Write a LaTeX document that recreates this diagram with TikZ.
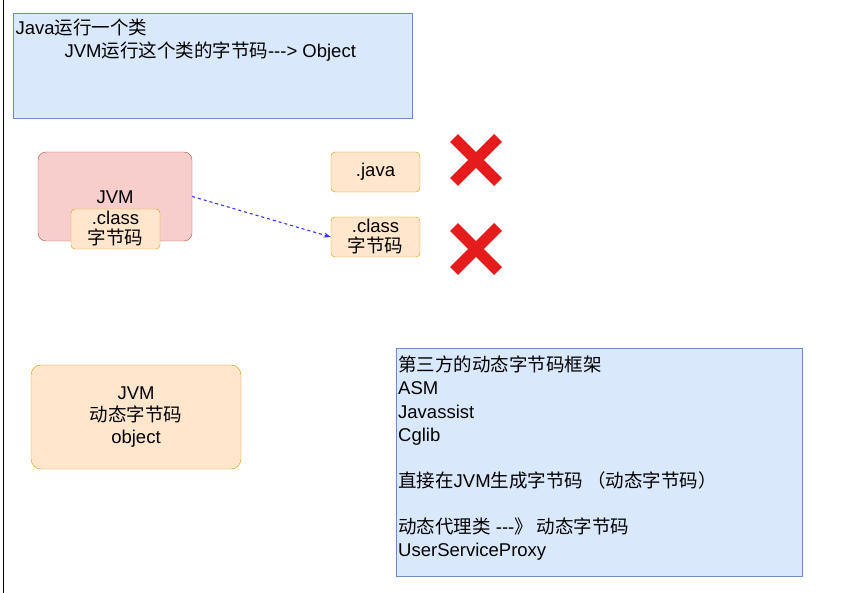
\documentclass[tikz,border=0pt]{standalone}
\usepackage{fontspec}
\setmainfont{Liberation Sans}
\newfontfamily\cjk{Noto Sans CJK SC}
\newcommand{\zh}[1]{{\cjk #1}}
\definecolor{bluefill}{HTML}{DAE8FC}
\definecolor{bluedraw}{HTML}{6C8EBF}
\definecolor{redfill}{HTML}{F8CECC}
\definecolor{reddraw}{HTML}{B85450}
\definecolor{orangefill}{HTML}{FFE6CC}
\definecolor{orangedraw}{HTML}{D79B00}
\definecolor{crossred}{HTML}{E51C1C}
\usetikzlibrary{positioning,arrows.meta}
\begin{document}
\begin{tikzpicture}[
  x=1pt,y=-1pt,
  font=\fontsize{18.5}{22}\selectfont,
  notebox/.style={draw=bluedraw,fill=bluefill,inner sep=0pt},
  jvmbox/.style={draw=reddraw,fill=redfill,rounded corners=8pt},
  filebox/.style={draw=orangedraw,fill=orangefill,rounded corners=4pt,
    minimum width=89pt,minimum height=40pt,align=center,inner sep=1pt},
  cross/.style={line width=11pt,crossred}
]
\useasboundingbox (0,0) rectangle (841,593);
\draw (3,0) -- (3,593);

% top note
\draw[notebox] (13,13) rectangle (412,118);
\node[anchor=west] (title) at (12,28) {Java\zh{运行一个类}};
\node[anchor=west] (run) at (61,52) {JVM\zh{运行这个类的字节码}-{}-{}-> Object};

% JVM with class bytes
\node[jvmbox,minimum width=154pt,minimum height=89pt] (jvm) at (115,196.5) {};
\node (jvmlabel) at (115,197) {JVM};
\node[filebox,font=\fontsize{18.5}{20}\selectfont] (inner) at (115.5,229) {.class\\\zh{字节码}};

% files
\node[filebox] (java) at (375.5,172) {.java};
\node[filebox,font=\fontsize{18.5}{20}\selectfont] (cls) at (375.5,237) {.class\\\zh{字节码}};
\draw[blue!80,dashed,line width=1.1pt,-{Stealth[length=7pt]}] (jvm.east) -- (cls.west);

% crosses
\foreach \cy in {160,249}
  \draw[cross] (454,\cy-22) -- (498,\cy+22) (498,\cy-22) -- (454,\cy+22);

% dynamic bytes
\node[filebox,rounded corners=10pt,minimum width=210pt,minimum height=104pt]
  (dyn) at (136,417) {JVM\\\zh{动态字节码}\\object};

% frameworks note
\draw[notebox] (396,348) rectangle (802,576);
\node[anchor=north west,align=left,inner sep=0pt,font=\fontsize{18.5}{23.1}\selectfont]
  (libs) at (398,356)
  {\zh{第三方的动态字节码框架}\\ASM\\Javassist\\Cglib\\[23.1pt]
   \zh{直接在}JVM\zh{生成字节码\ （动态字节码）}\\[23.1pt]
   \zh{动态代理类} -{}-{}-\zh{》 动态字节码}\\UserServiceProxy};
\end{tikzpicture}
\end{document}
